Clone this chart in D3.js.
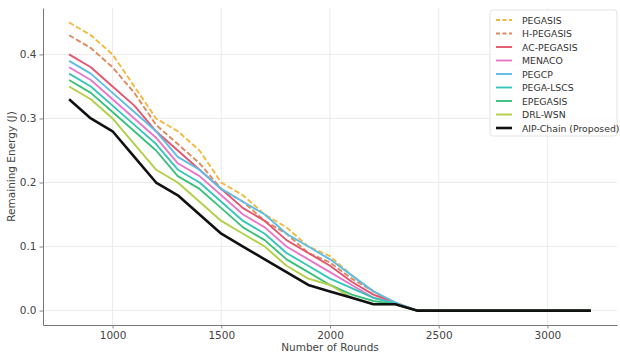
<!DOCTYPE html>
<html>
<head>
<meta charset="utf-8">
<script src="https://cdn.jsdelivr.net/npm/d3@7"></script>
<style>
  body { margin: 0; background: #fff; }
  svg { display: block; font-family: "DejaVu Sans", sans-serif; }
</style>
</head>
<body>
<div id="chart"></div>
<script>
// rounds on the x axis
const rounds = [800, 900, 1000, 1100, 1200, 1300, 1400, 1500, 1600, 1700, 1800, 1900, 2000, 2100, 2200, 2300, 2400, 2500, 2600, 2700, 2800, 2900, 3000, 3100, 3200];
const tail = [0, 0, 0, 0, 0, 0, 0, 0];

// remaining energy per protocol (J)
const pegasis   = [0.45, 0.43, 0.40, 0.35, 0.30, 0.28, 0.25, 0.20, 0.18, 0.15, 0.13, 0.10, 0.085, 0.055, 0.03, 0.01, 0, ...tail];
const hPegasis  = [0.43, 0.41, 0.38, 0.34, 0.29, 0.26, 0.23, 0.19, 0.17, 0.14, 0.12, 0.09, 0.075, 0.05, 0.03, 0.01, 0, ...tail];
const acPegasis = [0.40, 0.38, 0.35, 0.32, 0.28, 0.25, 0.22, 0.19, 0.16, 0.14, 0.11, 0.09, 0.07, 0.045, 0.025, 0.012, 0, ...tail];
const menaco    = [0.38, 0.36, 0.33, 0.30, 0.27, 0.23, 0.21, 0.18, 0.15, 0.13, 0.10, 0.08, 0.06, 0.04, 0.02, 0.012, 0, ...tail];
const pegcp     = [0.39, 0.37, 0.34, 0.31, 0.28, 0.24, 0.22, 0.19, 0.17, 0.15, 0.12, 0.10, 0.08, 0.055, 0.03, 0.013, 0, ...tail];
const pegaLscs  = [0.37, 0.35, 0.32, 0.29, 0.26, 0.22, 0.20, 0.17, 0.14, 0.12, 0.09, 0.07, 0.05, 0.035, 0.02, 0.011, 0, ...tail];
const epegasis  = [0.36, 0.34, 0.31, 0.28, 0.25, 0.21, 0.19, 0.16, 0.13, 0.11, 0.08, 0.06, 0.04, 0.025, 0.015, 0.01, 0, ...tail];
const drlWsn    = [0.35, 0.33, 0.30, 0.26, 0.22, 0.20, 0.17, 0.14, 0.12, 0.10, 0.07, 0.05, 0.04, 0.02, 0.01, 0.01, 0, ...tail];
const aipChain  = [0.33, 0.30, 0.28, 0.24, 0.20, 0.18, 0.15, 0.12, 0.10, 0.08, 0.06, 0.04, 0.03, 0.02, 0.01, 0.01, 0, ...tail];

const seriesNames = ['PEGASIS', 'H-PEGASIS', 'AC-PEGASIS', 'MENACO', 'PEGCP', 'PEGA-LSCS', 'EPEGASIS', 'DRL-WSN', 'AIP-Chain (Proposed)'];
const seriesValues = [pegasis, hPegasis, acPegasis, menaco, pegcp, pegaLscs, epegasis, drlWsn, aipChain];
const seriesColors = ['#f3b83f', '#dd8a5c', '#e4566f', '#e877c9', '#5dbde6', '#38c5b9', '#3cc07c', '#b3cf47', '#111111'];
const seriesDashed = [true, true, false, false, false, false, false, false, false];

const xTicks = [1000, 1500, 2000, 2500, 3000];
const yTicks = [0, 0.1, 0.2, 0.3, 0.4];

const width = 620, height = 359;
const margin = { top: 8, right: 3, bottom: 34, left: 43 };

const svg = d3.select('#chart').append('svg')
  .attr('width', width)
  .attr('height', height);

const x = d3.scaleLinear().domain([680, 3320]).range([margin.left, width - margin.right]);
const y = d3.scaleLinear().domain([-0.0225, 0.4725]).range([height - margin.bottom, margin.top]);

// grid
svg.append('g').selectAll('line').data(xTicks).join('line')
  .attr('x1', d => x(d)).attr('x2', d => x(d))
  .attr('y1', margin.top).attr('y2', height - margin.bottom)
  .attr('stroke', '#e6e6e6').attr('stroke-width', 0.8);
svg.append('g').selectAll('line').data(yTicks).join('line')
  .attr('x1', margin.left).attr('x2', width - margin.right)
  .attr('y1', d => y(d)).attr('y2', d => y(d))
  .attr('stroke', '#e6e6e6').attr('stroke-width', 0.8);

// axes
const xAxis = svg.append('g')
  .attr('transform', `translate(0,${height - margin.bottom})`)
  .call(d3.axisBottom(x).tickValues(xTicks).tickFormat(d3.format('d')).tickSize(3.5).tickPadding(3).tickSizeOuter(0));
const yAxis = svg.append('g')
  .attr('transform', `translate(${margin.left},0)`)
  .call(d3.axisLeft(y).tickValues(yTicks).tickFormat(d3.format('.1f')).tickSize(3.5).tickPadding(3).tickSizeOuter(0));

[xAxis, yAxis].forEach(a => {
  a.select('.domain').attr('stroke', '#777').attr('stroke-width', 1);
  a.selectAll('.tick line').attr('stroke', '#888');
  a.selectAll('.tick text').attr('fill', '#444').attr('font-size', '10.5px')
    .attr('font-family', '"DejaVu Sans", sans-serif');
});

svg.append('text')
  .attr('x', x(2000)).attr('y', 351)
  .attr('text-anchor', 'middle')
  .attr('fill', '#444').attr('font-size', '10.5px')
  .text('Number of Rounds');

svg.append('text')
  .attr('transform', `translate(15,${y(0.225)}) rotate(-90)`)
  .attr('text-anchor', 'middle')
  .attr('fill', '#444').attr('font-size', '10.5px')
  .text('Remaining Energy (J)');

// lines
const line = d3.line().x((d, i) => x(rounds[i])).y(d => y(d));

seriesValues.forEach((vals, k) => {
  svg.append('path')
    .datum(vals)
    .attr('d', line)
    .attr('fill', 'none')
    .attr('stroke', seriesColors[k])
    .attr('stroke-width', k === 8 ? 2.6 : 1.9)
    .attr('stroke-dasharray', seriesDashed[k] ? '5.5,2.5' : null)
    .attr('stroke-linejoin', 'round');
});

// legend
const legend = svg.append('g').attr('transform', 'translate(490,10)');
legend.append('rect')
  .attr('width', 127).attr('height', 126).attr('rx', 3)
  .attr('fill', '#fff').attr('fill-opacity', 0.85)
  .attr('stroke', '#dcdcdc').attr('stroke-width', 0.8);

seriesNames.forEach((name, k) => {
  const row = legend.append('g').attr('transform', `translate(0,${10 + k * 13.5})`);
  row.append('line')
    .attr('x1', 6).attr('x2', 22)
    .attr('stroke', seriesColors[k])
    .attr('stroke-width', k === 8 ? 2.6 : 1.9)
    .attr('stroke-dasharray', seriesDashed[k] ? '4,2.5' : null);
  row.append('text')
    .attr('x', 32).attr('y', 3.5)
    .attr('fill', '#333').attr('font-size', '9.3px')
    .text(name);
});
</script>
</body>
</html>
